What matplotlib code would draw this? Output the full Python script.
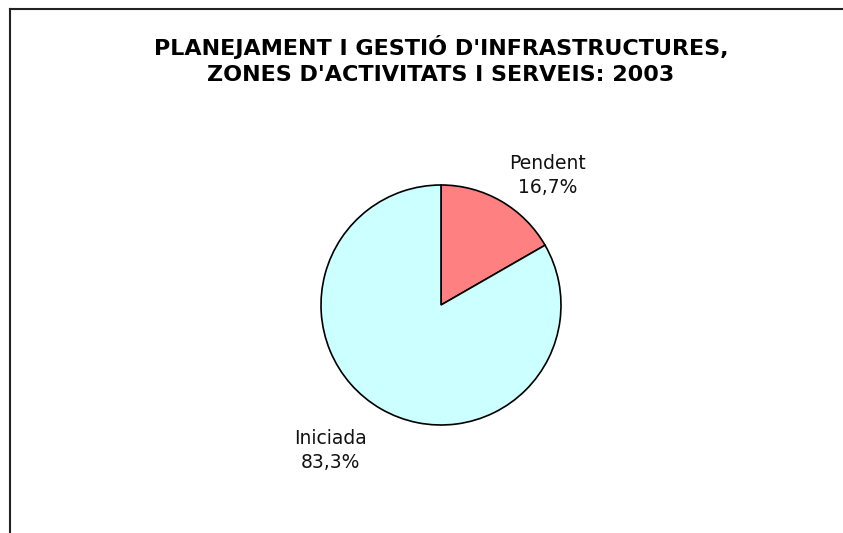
import matplotlib
matplotlib.use("Agg")
import matplotlib.pyplot as plt
from matplotlib.lines import Line2D

title = "PLANEJAMENT I GESTIÓ D'INFRASTRUCTURES,\nZONES D'ACTIVITATS I SERVEIS: 2003"
categories = ["Pendent", "Iniciada"]
values = [16.7, 83.3]
colors = ["#FF8080", "#CCFFFF"]
label_pos = [(0.89, 1.08), (-0.92, -1.21)]

W, H = 843, 533
fig = plt.figure(figsize=(W / 100, H / 100), dpi=100)
plt.rcParams['font.family'] = ['DejaVu Sans']

# frame (left and top visible)
fig.add_artist(Line2D([9.5 / W, 9.5 / W], [0, 1 - 8.5 / H], transform=fig.transFigure, color="#222222", lw=1.5))
fig.add_artist(Line2D([9.5 / W, 1], [1 - 8.5 / H, 1 - 8.5 / H], transform=fig.transFigure, color="#222222", lw=1.5))

fig.text(441 / W, 1 - 60 / H, title, ha="center", va="center", fontsize=16,
         fontweight="bold", linespacing=1.38)

cx, cy, r = 441, 305, 120
pad = 1.6
ax = fig.add_axes([(cx - r * pad) / W, (H - cy - r * pad) / H, 2 * r * pad / W, 2 * r * pad / H])
ax.pie(values, colors=colors, startangle=90, counterclock=False, radius=1,
       wedgeprops=dict(edgecolor="black", linewidth=1.2))
ax.set_xlim(-pad, pad)
ax.set_ylim(-pad, pad)
ax.set_aspect("equal")
ax.axis("off")

for cat, v, (lx, ly) in zip(categories, values, label_pos):
    ax.text(lx, ly, f"{cat}\n{v:.1f}%".replace(".", ","), ha="center", va="center",
            fontsize=13.5, linespacing=1.35, color="#111111")

fig.savefig("out.png", dpi=100)
